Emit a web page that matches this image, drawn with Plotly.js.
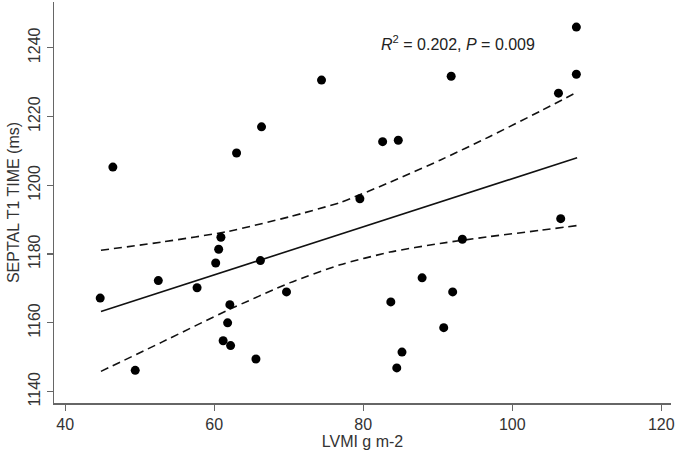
<!DOCTYPE html>
<html>
<head>
<meta charset="utf-8">
<script src="https://cdn.plot.ly/plotly-3.0.1.min.js"></script>
<style>
  html, body { margin: 0; padding: 0; background: #fff; }
  #chart { width: 677px; height: 460px; }
</style>
</head>
<body>
<div id="chart"></div>
<script>
// LVMI (g m-2) vs septal T1 time (ms)
const lvmi = [46.4, 63.0, 66.35, 74.4, 108.6, 108.6, 106.2, 91.8, 82.6, 84.7, 79.55,
  106.5, 60.9, 60.6, 60.2, 66.2, 52.5, 57.7, 44.7, 69.7, 62.1, 61.8, 61.2, 62.2,
  65.6, 49.4, 93.3, 87.9, 92.0, 83.7, 90.8, 85.2, 84.5];
const septalT1 = [1205.3, 1209.4, 1217.0, 1230.6, 1246.0, 1232.3, 1226.8, 1231.7, 1212.7,
  1213.1, 1196.1, 1190.3, 1184.9, 1181.4, 1177.4, 1178.1, 1172.3, 1170.2, 1167.2, 1169.0,
  1165.3, 1160.0, 1154.8, 1153.4, 1149.5, 1146.2, 1184.3, 1173.1, 1169.0, 1166.1, 1158.6,
  1151.5, 1146.9];

// regression line and 95% band
const fitX = [44.8, 108.7];
const fitY = [1163.3, 1208.0];
const bandX = [44.8, 52.98, 61.92, 70.2, 76.9, 83.6, 90.3, 97.0, 103.7, 108.7];
const bandUpper = [1181.1, 1183.5, 1186.6, 1190.9, 1195.0, 1200.9, 1207.3, 1214.2, 1221.5, 1227.1];
const bandLower = [1145.9, 1154.4, 1163.8, 1171.7, 1176.9, 1180.6, 1183.1, 1185.1, 1186.9, 1188.3];

const xTicks = [40, 60, 80, 100, 120];
const yTicks = [1140, 1160, 1180, 1200, 1220, 1240];

const FONT = 'Liberation Sans, Arial, Helvetica, sans-serif';
const dashStyle = { color: '#111', width: 1.6, dash: '8px,5px', shape: 'spline', smoothing: 0.5 };

const traces = [
  { x: bandX, y: bandUpper, type: 'scatter', mode: 'lines', line: dashStyle, hoverinfo: 'skip' },
  { x: bandX, y: bandLower, type: 'scatter', mode: 'lines', line: dashStyle, hoverinfo: 'skip' },
  { x: fitX, y: fitY, type: 'scatter', mode: 'lines', line: { color: '#111', width: 1.6 } },
  { x: lvmi, y: septalT1, type: 'scatter', mode: 'markers',
    marker: { color: '#000', size: 9 } }
];

const axisCommon = {
  showline: true, linecolor: '#666', linewidth: 1.5,
  ticks: 'outside', ticklen: 6, tickwidth: 1.2, tickcolor: '#666',
  showgrid: false, zeroline: false,
  tickfont: { family: FONT, size: 16, color: '#333' }
};

const layout = {
  width: 677, height: 460,
  margin: { l: 54, r: 6, t: 2, b: 57 },
  paper_bgcolor: 'white', plot_bgcolor: 'white',
  showlegend: false,
  font: { family: FONT, color: '#333' },
  xaxis: Object.assign({}, axisCommon, {
    range: [38.5, 121.3], tickvals: xTicks,
    title: { text: 'LVMI g m-2', font: { family: FONT, size: 16, color: '#333' }, standoff: 4 }
  }),
  yaxis: Object.assign({}, axisCommon, {
    range: [1136.7, 1253.3], tickvals: yTicks, tickangle: -90,
    title: { text: 'SEPTAL T1 TIME (ms)', font: { family: FONT, size: 16, color: '#333' }, standoff: 2 }
  }),
  annotations: [{
    x: 82.1, y: 1241.4, xref: 'x', yref: 'y', xanchor: 'left', yanchor: 'middle',
    showarrow: false,
    text: '<i>R</i><sup>2</sup> = 0.202, <i>P</i> = 0.009',
    font: { family: FONT, size: 16, color: '#222' }
  }]
};

Plotly.newPlot('chart', traces, layout, { staticPlot: true });
</script>
</body>
</html>
